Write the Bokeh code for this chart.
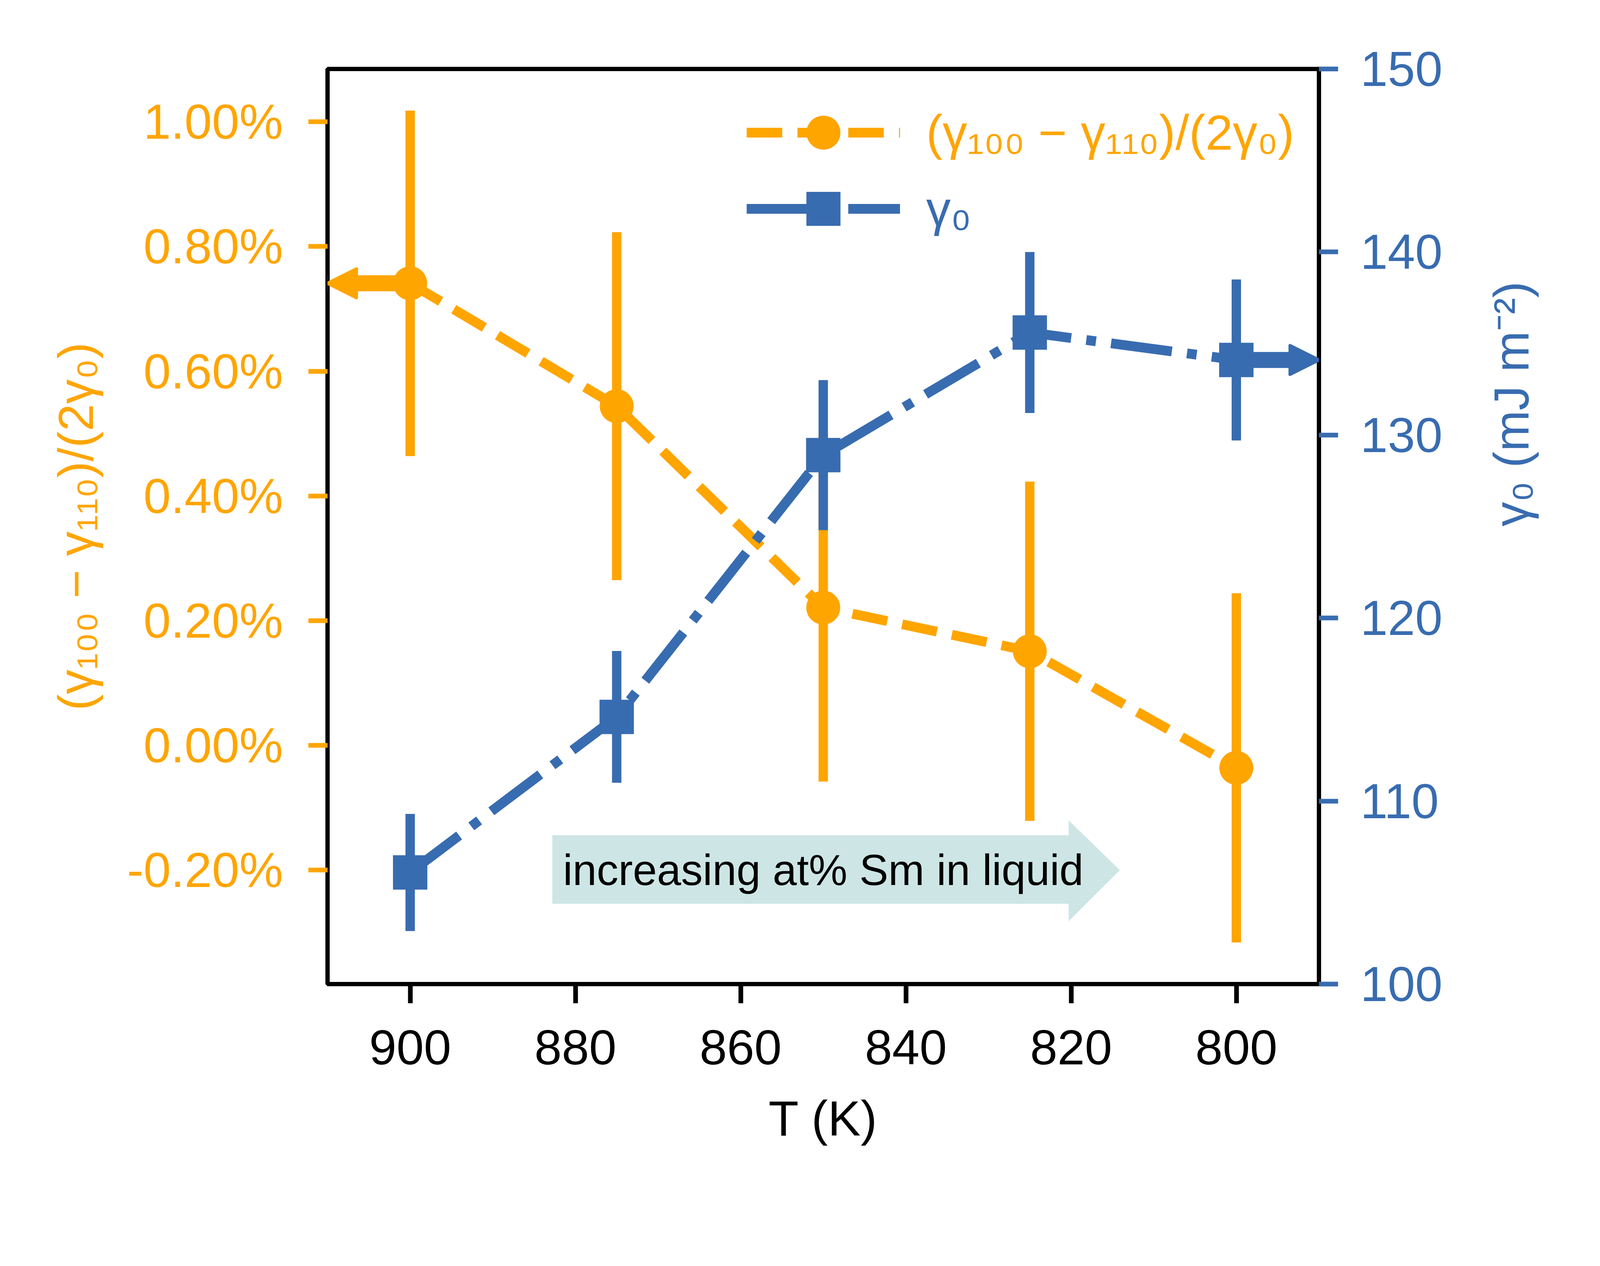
import math
from bokeh.plotting import figure
from bokeh.models import (Range1d, LinearAxis, FixedTicker, PrintfTickFormatter,
                          ColumnDataSource, Legend, LegendItem, Arrow, NormalHead,
                          Label, PolyAnnotation)
from bokeh.embed import file_html
from bokeh.resources import INLINE

# ---------------- data ----------------
temps = [900, 875, 850, 825, 800]                      # T (K)
aniso_pct = [0.741, 0.544, 0.221, 0.151, -0.036]      # (g100-g110)/(2 g0) in %
aniso_err = [0.277, 0.279, 0.279, 0.272, 0.280]
gamma0 = [106.1, 114.6, 128.9, 135.6, 134.1]          # mJ m^-2
gamma0_err = [3.2, 3.6, 4.1, 4.4, 4.4]

x_ticks = [900, 880, 860, 840, 820, 800]
pct_ticks = [-0.2, 0.0, 0.2, 0.4, 0.6, 0.8, 1.0]
gamma_ticks = [100, 110, 120, 130, 140, 150]
x_limits = (910, 790)
gamma_limits = (100, 150)

note_text = "increasing at% Sm in liquid"
note_anchor = (850, -0.2)

ORANGE = "#FFA500"
BLUE = "#386CB0"
TEAL = "#CDE6E5"
FONT = "Liberation Sans"
FS = "126px"

FW, FH = 2538, 2342   # frame size (px)

# ---------------- ranges ----------------
lo_a = [v - e for v, e in zip(aniso_pct, aniso_err)]
hi_a = [v + e for v, e in zip(aniso_pct, aniso_err)]
span = max(hi_a) - min(lo_a)
y_range = Range1d(min(lo_a) - 0.05 * span, max(hi_a) + 0.05 * span)

p = figure(frame_width=FW, frame_height=FH,
           x_range=Range1d(*x_limits), y_range=y_range,
           output_backend="svg", toolbar_location=None,
           min_border_left=838, min_border_right=709,
           min_border_top=176, min_border_bottom=542,
           background_fill_color="white", border_fill_color="white")
p.extra_y_ranges = {"gamma": Range1d(*gamma_limits)}
p.grid.visible = False
p.outline_line_color = "black"
p.outline_line_width = 11


def style_axis(ax, color, standoff):
    ax.axis_line_color = None
    ax.major_tick_line_color = color
    ax.major_tick_line_width = 12
    ax.major_tick_in = 0
    ax.major_tick_out = 49
    ax.minor_tick_line_color = None
    ax.major_label_text_color = color
    ax.major_label_text_font = FONT
    ax.major_label_text_font_size = FS
    ax.major_label_standoff = standoff
    ax.axis_label_text_font = FONT
    ax.axis_label_text_font_size = FS
    ax.axis_label_text_font_style = "normal"
    ax.axis_label_text_color = color


xax = p.xaxis[0]
xax.ticker = FixedTicker(ticks=x_ticks)
style_axis(xax, "black", 69)
xax.axis_label = "T (K)"
xax.axis_label_standoff = 65

yax = p.yaxis[0]
yax.ticker = FixedTicker(ticks=pct_ticks)
yax.formatter = PrintfTickFormatter(format="%.2f%%")
style_axis(yax, ORANGE, 65)
yax.axis_label = "(γ₁₀₀ − γ₁₁₀)/(2γ₀)"
yax.axis_label_standoff = 57

# right-hand axis with the gamma0 ticks and its title (read bottom-to-top)
rax = LinearAxis(y_range_name="gamma", ticker=FixedTicker(ticks=gamma_ticks))
style_axis(rax, BLUE, 57)
rax.axis_label = "γ₀ (mJ m⁻²)"
rax.axis_label_standoff = 174
rax.axis_label_text_align = "center"
rax.axis_label_text_baseline = "middle"
if "axis_label_orientation" in rax.properties():
    rax.axis_label_orientation = math.pi / 2
p.add_layout(rax, "right")

# ---------------- annotation box (under the data) ----------------
ax_, ay_ = note_anchor
p.add_layout(PolyAnnotation(
    xs=[ax_ + 32.8, ax_ - 29.7, ax_ - 29.7, ax_ - 35.9, ax_ - 29.7, ax_ - 29.7, ax_ + 32.8],
    ys=[ay_ + 0.056, ay_ + 0.056, ay_ + 0.080, ay_, ay_ - 0.082, ay_ - 0.054, ay_ - 0.054],
    fill_color=TEAL, fill_alpha=1.0, line_color=None, level="underlay"))
p.add_layout(Label(x=ax_, y=ay_, text=note_text, text_align="center",
                   text_baseline="middle", text_font=FONT, text_font_size="111px",
                   text_color="black"))

# ---------------- orange series ----------------
src_a = ColumnDataSource(dict(t=temps, v=aniso_pct, lo=lo_a, hi=hi_a))
p.segment(x0="t", y0="lo", x1="t", y1="hi", source=src_a,
          line_color=ORANGE, line_width=24, line_cap="butt")
line_a = p.line("t", "v", source=src_a, line_color=ORANGE, line_width=25,
                line_dash="91 39")
mark_a = p.scatter("t", "v", source=src_a, marker="circle", size=87,
                   fill_color=ORANGE, line_color=None)

# ---------------- blue series ----------------
lo_g = [v - e for v, e in zip(gamma0, gamma0_err)]
hi_g = [v + e for v, e in zip(gamma0, gamma0_err)]
src_g = ColumnDataSource(dict(t=temps, v=gamma0, lo=lo_g, hi=hi_g))
p.segment(x0="t", y0="lo", x1="t", y1="hi", source=src_g, y_range_name="gamma",
          line_color=BLUE, line_width=24, line_cap="butt")
line_g = p.line("t", "v", source=src_g, y_range_name="gamma", line_color=BLUE,
                line_width=25, line_dash="157 39 25 39")
mark_g = p.scatter("t", "v", source=src_g, y_range_name="gamma", marker="square",
                   size=88, fill_color=BLUE, line_color=None)

# ---------------- arrows to axes ----------------
p.add_layout(Arrow(x_start=temps[0], y_start=aniso_pct[0],
                   x_end=x_limits[0], y_end=aniso_pct[0],
                   line_color=ORANGE, line_width=41,
                   end=NormalHead(size=74, fill_color=ORANGE, line_color=ORANGE,
                                  line_width=8, line_join="round")))
p.add_layout(Arrow(x_start=temps[-1], y_start=gamma0[-1],
                   x_end=x_limits[1], y_end=gamma0[-1], y_range_name="gamma",
                   line_color=BLUE, line_width=41,
                   end=NormalHead(size=74, fill_color=BLUE, line_color=BLUE,
                                  line_width=8, line_join="round")))

# ---------------- legends ----------------
def make_legend(label, renderers, color, loc):
    return Legend(items=[LegendItem(label=label, renderers=renderers)],
                  location=loc, orientation="vertical",
                  glyph_width=393, glyph_height=218, label_standoff=67,
                  label_text_font=FONT, label_text_font_size=FS,
                  label_text_color=color, padding=0, margin=0, spacing=0,
                  border_line_color=None, background_fill_alpha=0)

p.add_layout(make_legend("(γ₁₀₀ − γ₁₁₀)/(2γ₀)", [line_a, mark_a], ORANGE, (1073, 2070)), "center")
p.add_layout(make_legend("γ₀", [line_g, mark_g], BLUE, (1073, 1875)), "center")

open("out.html", "w").write(file_html(p, INLINE))
